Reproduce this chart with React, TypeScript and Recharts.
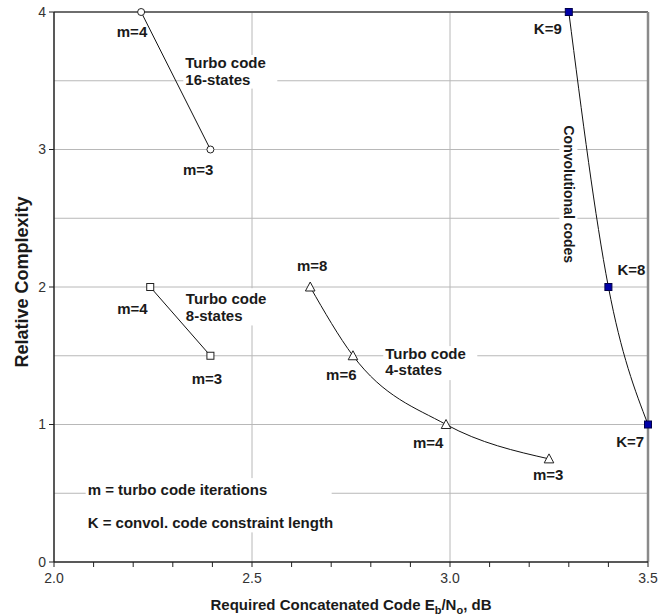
import {
  ScatterChart,
  Scatter,
  XAxis,
  YAxis,
  CartesianGrid,
  ReferenceLine,
  ReferenceDot,
} from 'recharts';

// Eb/No (dB) vs relative complexity
const turbo16X = [2.22, 2.395];
const turbo16Y = [4, 3];
const turbo8X = [2.243, 2.395];
const turbo8Y = [2, 1.5];
const turbo4X = [2.647, 2.755, 2.99, 3.25];
const turbo4Y = [2, 1.5, 1, 0.75];
const convX = [3.3, 3.4, 3.5];
const convY = [4, 2, 1];

const xTicks = [2.0, 2.1, 2.2, 2.3, 2.4, 2.5, 2.6, 2.7, 2.8, 2.9, 3.0, 3.1, 3.2, 3.3, 3.4, 3.5];
const yTicks = [0, 1, 2, 3, 4];
const xGrid = [2.5, 3.0];
const yGrid = [0.5, 1, 1.5, 2, 2.5, 3, 3.5, 4];

const FONT = '"Liberation Sans", Arial, Helvetica, sans-serif';
const INK = '#1a1a1a';
const NOTE_SIZE = 15;

const toPoints = (xs: number[], ys: number[]) => xs.map((x, i) => ({ x, y: ys[i] }));

const circleShape = (p: any) => (
  <circle cx={p.cx} cy={p.cy} r={3.5} fill="#fff" stroke="#222" strokeWidth={1} />
);
const squareShape = (p: any) => (
  <rect x={p.cx - 3.5} y={p.cy - 3.5} width={7} height={7} fill="#fff" stroke="#222" strokeWidth={1} />
);
const triangleShape = (p: any) => (
  <path
    d={`M${p.cx},${p.cy - 5} L${p.cx + 4.8},${p.cy + 4} L${p.cx - 4.8},${p.cy + 4} Z`}
    fill="#fff"
    stroke="#222"
    strokeWidth={1}
  />
);
const blueSquareShape = (p: any) => (
  <rect x={p.cx - 3.5} y={p.cy - 3.5} width={7} height={7} fill="#0000a8" stroke="#00004a" strokeWidth={1} />
);

// small text label centred on a data point
const tag = (text: string) => (p: any) => (
  <text x={p.cx} y={p.cy} dy="0.35em" textAnchor="middle" fontFamily={FONT} fontSize={NOTE_SIZE} fontWeight="bold" fill={INK}>
    {text}
  </text>
);

// two-line note with white backing, anchored at the left / first line centre
const note = (l1: string, l2: string, w: number, gap: number, pad = { t: 8, b: 9, l: 2 }) => (p: any) => (
  <g>
    <rect x={p.cx - pad.l} y={p.cy - pad.t} width={w} height={gap + pad.t + pad.b} fill="#fff" />
    <text x={p.cx} y={p.cy} dy="0.35em" fontFamily={FONT} fontSize={NOTE_SIZE} fontWeight="bold" fill={INK}>
      {l1}
    </text>
    <text x={p.cx} y={p.cy + gap} dy="0.35em" fontFamily={FONT} fontSize={NOTE_SIZE} fontWeight="bold" fill={INK}>
      {l2}
    </text>
  </g>
);

const convNote = (p: any) => (
  <g transform={`rotate(90, ${p.cx}, ${p.cy})`}>
    <rect x={p.cx - 75} y={p.cy - 9} width={150} height={18} fill="#fff" />
    <text x={p.cx} y={p.cy} dy="0.35em" textAnchor="middle" fontFamily={FONT} fontSize={14} fontWeight="bold" fill={INK}>
      Convolutional codes
    </text>
  </g>
);

const XTitle = () => (
  <text x={351} y={610} textAnchor="middle" fontFamily={FONT} fontSize={15} fontWeight="bold" fill={INK}>
    Required Concatenated Code E
    <tspan dy={4} fontSize={11}>b</tspan>
    <tspan dy={-4}>/N</tspan>
    <tspan dy={4} fontSize={11}>o</tspan>
    <tspan dy={-4}>, dB</tspan>
  </text>
);

const YTitle = () => (
  <text
    x={22}
    y={282}
    transform="rotate(-90, 22, 282)"
    textAnchor="middle"
    dy="0.35em"
    fontFamily={FONT}
    fontSize={18}
    fontWeight="bold"
    fill={INK}
  >
    Relative Complexity
  </text>
);

export default function App() {
  return (
    <div style={{ position: 'absolute', left: 0, top: 0, background: '#fff' }}>
      <ScatterChart width={663} height={616} margin={{ top: 12, right: 15, bottom: 0, left: 0 }}>
        <CartesianGrid stroke="#b8b8b8" strokeWidth={1} horizontalValues={yGrid} verticalValues={xGrid} />
        <XAxis
          type="number"
          dataKey="x"
          domain={[2, 3.5]}
          ticks={xTicks}
          interval={0}
          height={54}
          tickSize={5}
          tickMargin={6}
          tickFormatter={(v: number) => (Math.round(v * 10) % 5 === 0 ? v.toFixed(1) : '')}
          tick={{ fill: '#333', fontSize: 14, fontFamily: FONT }}
          axisLine={{ stroke: '#222', strokeWidth: 1.5 }}
          tickLine={{ stroke: '#222' }}
          label={{ content: () => <XTitle /> }}
        />
        <YAxis
          type="number"
          dataKey="y"
          domain={[0, 4]}
          ticks={yTicks}
          interval={0}
          width={54}
          tickSize={5}
          tickMargin={3}
          tick={{ fill: '#333', fontSize: 14, fontFamily: FONT }}
          axisLine={{ stroke: '#222', strokeWidth: 1.5 }}
          tickLine={{ stroke: '#222' }}
          label={{ content: () => <YTitle /> }}
        />
        <ReferenceLine y={4} stroke="#4a4a4a" strokeWidth={1.5} />
        <ReferenceLine x={3.5} stroke="#8a8a8a" strokeWidth={2.5} />

        {/* annotations */}
        <ReferenceDot x={2.197} y={3.86} r={0} ifOverflow="visible" shape={tag('m=4')} />
        <ReferenceDot x={2.364} y={2.856} r={0} ifOverflow="visible" shape={tag('m=3')} />
        <ReferenceDot x={2.3316} y={3.629} r={0} ifOverflow="visible" shape={note('Turbo code', '16-states', 94, 16.6)} />
        <ReferenceDot x={2.198} y={1.839} r={0} ifOverflow="visible" shape={tag('m=4')} />
        <ReferenceDot x={2.386} y={1.335} r={0} ifOverflow="visible" shape={tag('m=3')} />
        <ReferenceDot x={2.333} y={1.911} r={0} ifOverflow="visible" shape={note('Turbo code', '8-states', 94, 16.2, { t: 11, b: 10, l: 2 })} />
        <ReferenceDot x={2.652} y={2.151} r={0} ifOverflow="visible" shape={tag('m=8')} />
        <ReferenceDot x={2.7255} y={1.359} r={0} ifOverflow="visible" shape={tag('m=6')} />
        <ReferenceDot x={2.8366} y={1.512} r={0} ifOverflow="visible" shape={note('Turbo code', '4-states', 94, 16, { t: 8, b: 10, l: 2 })} />
        <ReferenceDot x={2.945} y={0.867} r={0} ifOverflow="visible" shape={tag('m=4')} />
        <ReferenceDot x={3.248} y={0.632} r={0} ifOverflow="visible" shape={tag('m=3')} />
        <ReferenceDot x={3.247} y={3.88} r={0} ifOverflow="visible" shape={tag('K=9')} />
        <ReferenceDot x={3.458} y={2.122} r={0} ifOverflow="visible" shape={tag('K=8')} />
        <ReferenceDot x={3.455} y={0.874} r={0} ifOverflow="visible" shape={tag('K=7')} />
        <ReferenceDot x={3.299} y={2.674} r={0} ifOverflow="visible" shape={convNote} />
        <ReferenceDot
          x={2.085}
          y={0.523}
          r={0}
          ifOverflow="visible"
          shape={note('m = turbo code iterations', 'K = convol. code constraint length', 246, 32.3, { t: 12, b: 10, l: 2 })}
        />

        <Scatter
          data={toPoints(turbo16X, turbo16Y)}
          line={{ stroke: '#111', strokeWidth: 1 }}
          shape={circleShape}
          isAnimationActive={false}
        />
        <Scatter
          data={toPoints(turbo8X, turbo8Y)}
          line={{ stroke: '#111', strokeWidth: 1 }}
          shape={squareShape}
          isAnimationActive={false}
        />
        <Scatter
          data={toPoints(turbo4X, turbo4Y)}
          line={{ stroke: '#111', strokeWidth: 1 }}
          lineJointType="monotoneX"
          shape={triangleShape}
          isAnimationActive={false}
        />
        <Scatter
          data={toPoints(convX, convY)}
          line={{ stroke: '#111', strokeWidth: 1 }}
          lineJointType="monotoneX"
          shape={blueSquareShape}
          isAnimationActive={false}
        />
      </ScatterChart>
    </div>
  );
}
